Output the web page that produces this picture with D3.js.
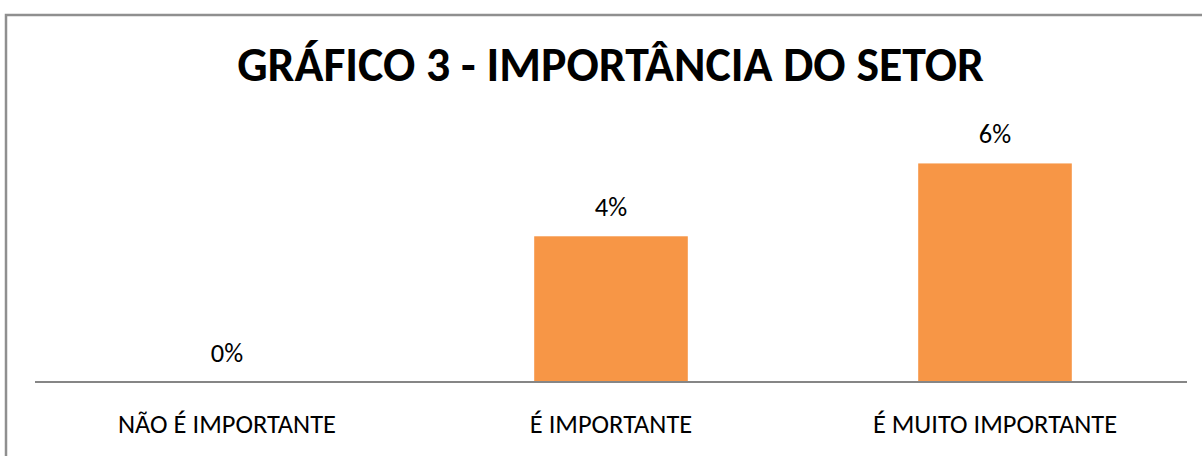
<!DOCTYPE html>
<html>
<head>
<meta charset="utf-8">
<script src="https://cdn.jsdelivr.net/npm/d3@7"></script>
<style>
  html, body { margin: 0; padding: 0; background: #fff; }
  svg { display: block; }
  text { font-family: Carlito, Calibri, Lato, "Open Sans", sans-serif; fill: #000; }
</style>
</head>
<body>
<script>
const title = "GRÁFICO 3 - IMPORTÂNCIA DO SETOR";
const categories = ["NÃO É IMPORTANTE", "É IMPORTANTE", "É MUITO IMPORTANTE"];
const values = [0, 4, 6];
const valueLabels = ["0%", "4%", "6%"];

const W = 1202, H = 456;
const svg = d3.select("body").append("svg").attr("width", W).attr("height", H);

// chart border (top and left visible)
svg.append("rect")
  .attr("x", 6).attr("y", 15).attr("width", 1260).attr("height", 500)
  .attr("fill", "#fff").attr("stroke", "#8f8f8f").attr("stroke-width", 2.5);

const x = d3.scaleBand().domain(categories).range([35, 1187]).paddingInner(0.6).paddingOuter(0.3);
const y = d3.scaleLinear().domain([0, 7]).range([382, 127]);

function fit(sel, targetW) {
  const node = sel.node();
  const w = node.getComputedTextLength();
  const fs = parseFloat(sel.attr("font-size"));
  sel.attr("font-size", fs * targetW / w);
}

const t = svg.append("text")
  .attr("x", 610.5).attr("y", 81)
  .attr("text-anchor", "middle")
  .attr("font-weight", "bold")
  .attr("font-size", 40)
  .text(title);
fit(t, 747);

svg.selectAll("rect.bar").data(values).join("rect")
  .attr("class", "bar")
  .attr("x", (d, i) => x(categories[i]))
  .attr("width", x.bandwidth())
  .attr("y", d => y(d))
  .attr("height", d => y(0) - y(d))
  .attr("fill", "#f79646");

// baseline axis
const axis = svg.append("g").attr("transform", `translate(0,${y(0)})`)
  .call(d3.axisBottom(x).tickSize(0).tickPadding(0).tickFormat(""));
axis.select(".domain").attr("stroke", "#868686").attr("stroke-width", 2)
  .attr("d", "M35,0H1187");

svg.selectAll("text.val").data(values).join("text")
  .attr("class", "val")
  .attr("x", (d, i) => x(categories[i]) + x.bandwidth() / 2)
  .attr("y", d => y(d) - 20)
  .attr("text-anchor", "middle")
  .attr("font-size", 19)
  .text((d, i) => valueLabels[i]);

const catTexts = svg.selectAll("text.cat").data(categories).join("text")
  .attr("class", "cat")
  .attr("x", d => x(d) + x.bandwidth() / 2)
  .attr("y", 433)
  .attr("text-anchor", "middle")
  .attr("font-size", 19)
  .text(d => d);
fit(catTexts.filter((d, i) => i === 0), 218);
const fsCat = parseFloat(catTexts.filter((d, i) => i === 0).attr("font-size"));
catTexts.attr("font-size", fsCat);
svg.selectAll("text.val").attr("font-size", fsCat);
</script>
</body>
</html>
